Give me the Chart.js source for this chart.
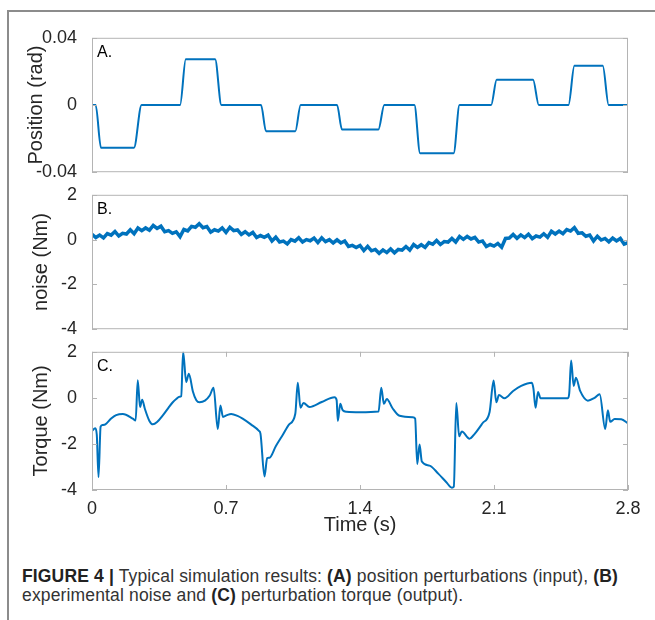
<!DOCTYPE html>
<html>
<head>
<meta charset="utf-8">
<script src="https://cdn.jsdelivr.net/npm/chart.js@4.4.0/dist/chart.umd.min.js"></script>
<style>
  body { margin: 0; background: #fff; width: 655px; height: 620px; overflow: hidden; position: relative; }
  .frame { position: absolute; left: 7px; top: 10px; width: 700px; height: 700px;
           border-top: 2px solid #8c8c8c; border-left: 2px solid #8c8c8c; }
  canvas { position: absolute; left: 0; }
  .cap { position: absolute; left: 22px; font-family: "Liberation Sans", Arial, sans-serif;
         font-size: 17.5px; letter-spacing: 0.15px; line-height: 20px; color: #333; white-space: nowrap; }
  .cap b { color: #222; }
</style>
</head>
<body>
<div class="frame"></div>
<canvas id="posChart" width="648" height="170" style="top:20px"></canvas>
<canvas id="noiseChart" width="648" height="170" style="top:177px"></canvas>
<canvas id="torqueChart" width="648" height="203" style="top:334px"></canvas>
<div class="cap" style="top:566px"><b>FIGURE 4 |</b> Typical simulation results: <b>(A)</b> position perturbations (input), <b>(B)</b></div>
<div class="cap" style="top:585px">experimental noise and <b>(C)</b> perturbation torque (output).</div>
<script>
const timeTicks = [0, 0.7, 1.4, 2.1, 2.8];
const posTicks = [-0.04, 0, 0.04];
const nmTicks = [-4, -2, 0, 2];

// A. position perturbation (rad)
const posTime = [0, 0.019, 0.047, 0.219, 0.259, 0.46, 0.49, 0.643, 0.676, 0.883, 0.909, 1.062, 1.09, 1.28, 1.306,
  1.496, 1.527, 1.684, 1.714, 1.889, 1.92, 2.085, 2.114, 2.304, 2.334, 2.489, 2.52, 2.668, 2.699, 2.8];
const posVals = [0, 0, -0.0255, -0.0255, 0, 0, 0.0272, 0.0272, 0, 0, -0.0156, -0.0156, 0, 0, -0.0146,
  -0.0146, 0, 0, -0.0287, -0.0287, 0, 0, 0.015, 0.015, 0, 0, 0.0233, 0.0233, 0, 0];

// B. experimental noise (Nm), sampled every 0.02 s
const noiseVals = [
  0.24, 0.09, 0.20, 0.08, 0.27, 0.20, 0.36, 0.16, 0.28, 0.25,
  0.44, 0.26, 0.52, 0.40, 0.52, 0.42, 0.63, 0.50, 0.60, 0.35,
  0.40, 0.28, 0.35, 0.13, 0.45, 0.39, 0.59, 0.55, 0.71, 0.53,
  0.58, 0.33, 0.44, 0.38, 0.52, 0.32, 0.55, 0.40, 0.43, 0.23,
  0.35, 0.21, 0.32, 0.09, 0.18, 0.10, 0.20, -0.06, 0.11, -0.11,
  -0.07, -0.19, 0.00, -0.07, 0.08, -0.11, 0.00, -0.05, 0.07, -0.13,
  0.08, -0.09, 0.00, -0.15, -0.01, -0.15, -0.06, -0.31, -0.26, -0.35,
  -0.26, -0.49, -0.30, -0.50, -0.44, -0.61, -0.46, -0.58, -0.42, -0.59,
  -0.44, -0.47, -0.31, -0.47, -0.22, -0.35, -0.23, -0.35, -0.14, -0.21,
  -0.04, -0.22, -0.09, -0.11, 0.05, -0.11, 0.14, 0.01, 0.14, 0.03,
  0.10, -0.11, -0.06, -0.31, -0.22, -0.29, -0.17, -0.34, 0.05, 0.07,
  0.23, 0.06, 0.21, 0.09, 0.24, 0.04, 0.16, 0.11, 0.26, 0.10,
  0.37, 0.25, 0.38, 0.26, 0.45, 0.38, 0.53, 0.28, 0.30, 0.15,
  0.20, -0.06, 0.15, -0.02, 0.05, -0.10, 0.07, -0.06, 0.05, -0.20,
  -0.14
];
const noiseTime = noiseVals.map((v, i) => i * 0.02);

// C. perturbation torque (Nm)
const torqueTime = [0, 0.017, 0.025, 0.034, 0.045, 0.055, 0.07, 0.1, 0.126, 0.161,
  0.213, 0.228, 0.239, 0.251, 0.262, 0.276, 0.3, 0.318, 0.34, 0.37,
  0.4, 0.422, 0.44, 0.457, 0.466, 0.476, 0.492, 0.506, 0.527, 0.545,
  0.562, 0.59, 0.615, 0.635, 0.657, 0.671, 0.684, 0.705, 0.727, 0.76,
  0.787, 0.83, 0.872, 0.88, 0.901, 0.915, 0.927, 0.96, 0.997, 1.03,
  1.062, 1.075, 1.089, 1.105, 1.136, 1.2, 1.267, 1.278, 1.284, 1.297,
  1.31, 1.33, 1.4, 1.497, 1.511, 1.525, 1.54, 1.57, 1.607, 1.676,
  1.688, 1.699, 1.711, 1.723, 1.763, 1.81, 1.85, 1.88, 1.89, 1.903,
  1.918, 1.932, 1.972, 2.0, 2.04, 2.077, 2.098, 2.112, 2.126, 2.155,
  2.2, 2.242, 2.298, 2.306, 2.317, 2.33, 2.343, 2.486, 2.493, 2.503,
  2.516, 2.528, 2.55, 2.59, 2.625, 2.652, 2.681, 2.695, 2.707, 2.73,
  2.765, 2.8];
const torqueVals = [-1.43, -1.32, -1.6, -3.44, -1.25, -1.18, -1.15, -0.9, -0.75, -0.7,
  -0.9, -0.98, 0.77, -0.4, -0.08, -0.47, -1.0, -1.15, -1.05, -0.76,
  -0.42, -0.19, -0.05, 0.05, 0.08, 2.0, 0.69, 1.05, 0.28, -0.1,
  -0.19, -0.12, 0.1, 0.44, -1.35, -0.33, -0.83, -0.75, -0.7, -0.78,
  -0.9, -1.15, -1.43, -1.55, -3.41, -2.62, -2.6, -2.1, -1.6, -1.15,
  -0.69, 0.66, -0.43, -0.22, -0.4, -0.18, 0.03, -0.1, -1.0, -0.26,
  -0.54, -0.6, -0.62, -0.59, 0.44, -0.26, -0.05, -0.45, -0.78, -0.84,
  -0.9, -2.87, -2.03, -2.76, -2.94, -3.3, -3.65, -3.9, -3.86, -0.22,
  -1.67, -1.46, -1.77, -1.55, -1.1, -0.61, 0.75, -0.19, 0.12, -0.02,
  0.3, 0.52, 0.66, 0.4, -0.43, 0.26, -0.02, -0.02, 0.2, 1.62,
  0.52, 0.87, 0.3, -0.12, 0.0, 0.16, -1.35, -0.54, -1.04, -0.92,
  -0.93, -1.11];

const lineColor = '#0072bd';
const textColor = '#262626';
const fontFamily = '"Liberation Sans", Arial, sans-serif';
Chart.defaults.font.family = fontFamily;
Chart.defaults.color = textColor;

// box, inward tick marks and panel letter
const panelPlugin = {
  id: 'panel',
  afterDatasetsDraw(chart, args, opts) {
    const { ctx, chartArea: a, scales } = chart;
    ctx.save();
    ctx.strokeStyle = '#b4b4b4';
    ctx.lineWidth = 1;
    ctx.strokeRect(a.left + 0.5, a.top + 0.5, a.right - a.left - 1, a.bottom - a.top - 1);
    ctx.beginPath();
    scales.y.ticks.forEach(t => {
      const py = Math.round(scales.y.getPixelForValue(t.value)) + 0.5;
      ctx.moveTo(a.left, py); ctx.lineTo(a.left + 5, py);
      ctx.moveTo(a.right, py); ctx.lineTo(a.right - 5, py);
    });
    if (opts.xTicks) {
      scales.x.ticks.forEach(t => {
        const px = Math.round(scales.x.getPixelForValue(t.value)) + 0.5;
        ctx.moveTo(px, a.bottom); ctx.lineTo(px, a.bottom - 5);
        ctx.moveTo(px, a.top); ctx.lineTo(px, a.top + 5);
      });
    }
    ctx.stroke();
    ctx.fillStyle = '#000';
    ctx.font = '16px ' + fontFamily;
    ctx.textBaseline = 'alphabetic';
    ctx.fillText(opts.label, a.left + 5, a.top + 19);
    ctx.restore();
  }
};

function makePanel(id, times, vals, yMin, yMax, yTicks, yTitle, titlePad, label, showX, width, smooth) {
  return new Chart(document.getElementById(id), {
    type: 'line',
    data: {
      datasets: [{
        data: times.map((t, i) => ({ x: t, y: vals[i] })),
        borderColor: lineColor,
        borderWidth: width,
        pointRadius: 0,
        cubicInterpolationMode: smooth ? 'monotone' : 'default',
        tension: 0
      }]
    },
    options: {
      responsive: false,
      animation: false,
      events: [],
      layout: { padding: { top: 14, right: 20, bottom: showX ? 0 : 14, left: 0 } },
      plugins: {
        legend: { display: false },
        tooltip: { enabled: false },
        panel: { label: label, xTicks: showX }
      },
      scales: {
        x: {
          type: 'linear',
          min: 0,
          max: 2.8,
          display: showX,
          afterBuildTicks: s => { s.ticks = timeTicks.map(v => ({ value: v })); },
          afterFit: s => { s.height = showX ? 47 : 0; },
          grid: { display: false },
          border: { display: false },
          ticks: { font: { size: 18 }, padding: 0, maxRotation: 0, callback: v => String(v) },
          title: { display: true, text: 'Time (s)', font: { size: 20 }, padding: { top: 0, bottom: 0 } }
        },
        y: {
          min: yMin,
          max: yMax,
          afterBuildTicks: s => { s.ticks = yTicks.map(v => ({ value: v })); },
          afterFit: s => { s.width = 92; },
          grid: { display: false },
          border: { display: false },
          ticks: { font: { size: 18 }, padding: 7, callback: v => String(v) },
          title: { display: true, text: yTitle, font: { size: 20 }, padding: { top: titlePad, bottom: 0 } }
        }
      }
    },
    plugins: [panelPlugin]
  });
}

makePanel('posChart', posTime, posVals, -0.04, 0.04, posTicks, 'Position (rad)', 24, 'A.', false, 2, true);
makePanel('noiseChart', noiseTime, noiseVals, -4, 2, nmTicks, 'noise (Nm)', 29, 'B.', false, 3.5, false);
makePanel('torqueChart', torqueTime, torqueVals, -4, 2, nmTicks, 'Torque (Nm)', 29, 'C.', true, 2, true);
</script>
</body>
</html>
